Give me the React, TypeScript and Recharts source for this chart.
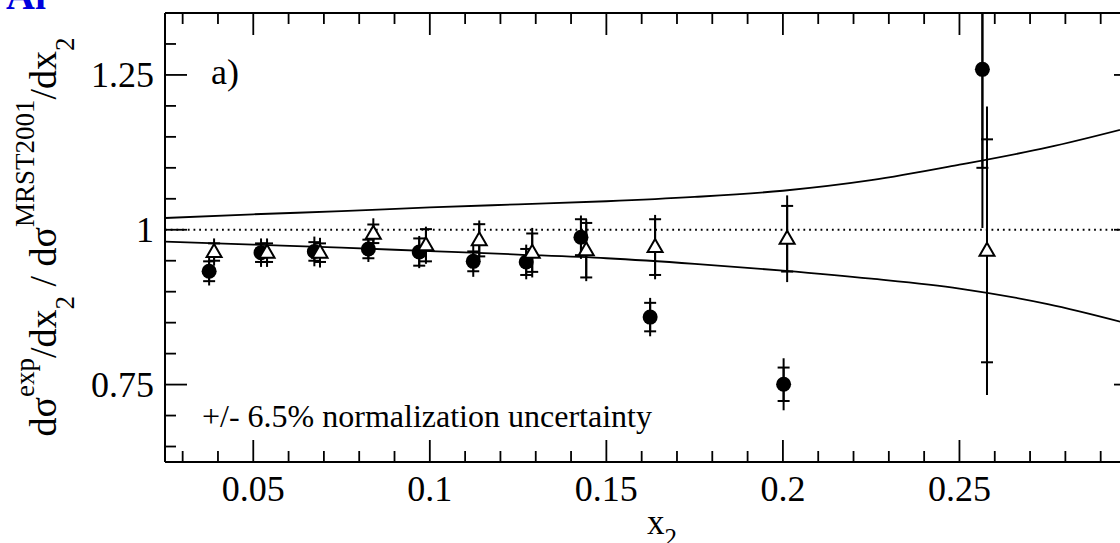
import React from 'react';
import { ComposedChart, XAxis, YAxis, Line, Scatter, ErrorBar, ReferenceLine } from 'recharts';

const SERIF = '"Liberation Serif", "Times New Roman", serif';

// Filled circles
const circleX = [0.0375, 0.0522, 0.0673, 0.0826, 0.097, 0.1123, 0.1273, 0.1428, 0.1624, 0.2002, 0.2565];
const circleY = [0.933, 0.963, 0.965, 0.969, 0.964, 0.949, 0.948, 0.988, 0.859, 0.7505, 1.259];
const circleStat = [0.016, 0.015, 0.015, 0.015, 0.022, 0.016, 0.021, 0.029, 0.023, 0.027, 0.159];
const circleTot = [0.023, 0.023, 0.024, 0.021, 0.026, 0.025, 0.028, 0.035, 0.031, 0.042, 0.256];

// Open triangles
const triX = [0.0389, 0.0539, 0.0689, 0.084, 0.0989, 0.114, 0.129, 0.1443, 0.1638, 0.2012, 0.2578];
const triY = [0.964, 0.963, 0.963, 0.9935, 0.975, 0.983, 0.963, 0.967, 0.972, 0.9855, 0.966];
const triStat = [0.014, 0.015, 0.015, 0.015, 0.026, 0.026, 0.031, 0.044, 0.045, 0.053, 0.18];
const triTot = [0.022, 0.023, 0.024, 0.025, 0.03, 0.032, 0.04, 0.05, 0.052, 0.07, 0.233];

// Band curves
const bandX = [0.025, 0.05, 0.075, 0.1, 0.125, 0.15, 0.175, 0.2, 0.225, 0.25, 0.275, 0.3];
const bandUpper = [1.019, 1.025, 1.03, 1.036, 1.041, 1.046, 1.053, 1.063, 1.08, 1.105, 1.133, 1.168];
const bandLower = [0.981, 0.976, 0.971, 0.9655, 0.96, 0.954, 0.945, 0.934, 0.921, 0.905, 0.88, 0.845];

// Ticks
const xMajorTicks = [0.05, 0.1, 0.15, 0.2, 0.25];
const xMinorTicks = [0.03, 0.04, 0.06, 0.07, 0.08, 0.09, 0.11, 0.12, 0.13, 0.14, 0.16, 0.17, 0.18, 0.19, 0.21, 0.22, 0.23, 0.24, 0.26, 0.27, 0.28, 0.29];
const yMajorTicks = [0.75, 1, 1.25];
const yMinorTicks = [0.65, 0.7, 0.8, 0.85, 0.9, 0.95, 1.05, 1.1, 1.15, 1.2, 1.3];

const xTicks = [...xMajorTicks, ...xMinorTicks].sort((a, b) => a - b);
const yTicks = [...yMajorTicks, ...yMinorTicks].sort((a, b) => a - b);

const circleData = circleX.map((x, i) => ({ x, y: circleY[i], stat: circleStat[i], tot: circleTot[i] }));
const triData = triX.map((x, i) => ({ x, y: triY[i], stat: triStat[i], tot: triTot[i] }));
const upperData = bandX.map((x, i) => ({ x, y: bandUpper[i] }));
const lowerData = bandX.map((x, i) => ({ x, y: bandLower[i] }));

const MAJ = 22;
const MIN = 11;
const TW = 1.8;

const BottomTick = (props: any) => {
  const { x, y, payload } = props;
  const major = xMajorTicks.includes(payload.value);
  return (
    <g>
      <line x1={x} x2={x} y1={y} y2={y - (major ? MAJ : MIN)} stroke="#000" strokeWidth={TW} />
      {major && (
        <text x={x} y={y + 39} textAnchor="middle" fontFamily={SERIF} fontSize={36} fill="#000">
          {String(payload.value)}
        </text>
      )}
    </g>
  );
};

const TopTick = (props: any) => {
  const { x, y, payload } = props;
  const major = xMajorTicks.includes(payload.value);
  return <line x1={x} x2={x} y1={y} y2={y + (major ? MAJ : MIN)} stroke="#000" strokeWidth={TW} />;
};

const LeftTick = (props: any) => {
  const { x, y, payload } = props;
  const major = yMajorTicks.includes(payload.value);
  return (
    <g>
      <line x1={x} x2={x + (major ? MAJ : MIN)} y1={y} y2={y} stroke="#000" strokeWidth={TW} />
      {major && (
        <text x={x - 11} y={y + 12} textAnchor="end" fontFamily={SERIF} fontSize={36} fill="#000">
          {String(payload.value)}
        </text>
      )}
    </g>
  );
};

const RightTick = (props: any) => {
  const { x, y, payload } = props;
  const major = yMajorTicks.includes(payload.value);
  return <line x1={x} x2={x - (major ? MAJ : MIN)} y1={y} y2={y} stroke="#000" strokeWidth={TW} />;
};

const CircleShape = (props: any) => <circle cx={props.cx} cy={props.cy} r={7.5} fill="#000" />;
const TriShape = (props: any) => {
  const { cx, cy } = props;
  const pts = `${cx},${cy - 8} ${cx - 7.5},${cy + 5} ${cx + 7.5},${cy + 5}`;
  return <polygon points={pts} fill="#fff" stroke="#000" strokeWidth={2} />;
};

export default function App() {
  return (
    <div style={{ position: 'absolute', left: 0, top: 0, width: 1120, height: 543, overflow: 'hidden', background: '#fff' }}>
      <style>{`.recharts-errorBar, .recharts-errorBars { clip-path: url(#plotAreaClip); }`}</style>
      <svg width={0} height={0} style={{ position: 'absolute' }}>
        <defs>
          <clipPath id="plotAreaClip" clipPathUnits="userSpaceOnUse">
            <rect x={165} y={13} width={971} height={449} />
          </clipPath>
        </defs>
      </svg>
      <ComposedChart width={1160} height={543} margin={{ top: 0, right: 0, bottom: 0, left: 0 }}>
        <XAxis
          xAxisId="b"
          type="number"
          dataKey="x"
          orientation="bottom"
          domain={[0.025, 0.3]}
          allowDataOverflow
          ticks={xTicks}
          interval={0}
          height={81}
          tickSize={0}
          tickMargin={0}
          tickLine={false}
          tick={<BottomTick />}
          axisLine={{ stroke: '#000', strokeWidth: 2 }}
        />
        <XAxis
          xAxisId="t"
          type="number"
          dataKey="x"
          orientation="top"
          domain={[0.025, 0.3]}
          allowDataOverflow
          ticks={xTicks}
          interval={0}
          height={13}
          tickSize={0}
          tickMargin={0}
          tickLine={false}
          tick={<TopTick />}
          axisLine={{ stroke: '#000', strokeWidth: 2 }}
        />
        <YAxis
          yAxisId="l"
          type="number"
          orientation="left"
          domain={[0.625, 1.35]}
          allowDataOverflow
          ticks={yTicks}
          interval={0}
          width={165}
          tickSize={0}
          tickMargin={0}
          tickLine={false}
          tick={<LeftTick />}
          axisLine={{ stroke: '#000', strokeWidth: 2 }}
        />
        <YAxis
          yAxisId="r"
          type="number"
          orientation="right"
          domain={[0.625, 1.35]}
          allowDataOverflow
          ticks={yTicks}
          interval={0}
          width={24}
          tickSize={0}
          tickMargin={0}
          tickLine={false}
          tick={<RightTick />}
          axisLine={{ stroke: '#000', strokeWidth: 2 }}
        />
        <ReferenceLine xAxisId="b" yAxisId="l" y={1} stroke="#000" strokeWidth={1.8} strokeDasharray="1.8 3.9" />
        <Line xAxisId="b" yAxisId="l" data={upperData} dataKey="y" type="monotone" stroke="#000" strokeWidth={1.8} dot={false} isAnimationActive={false} />
        <Line xAxisId="b" yAxisId="l" data={lowerData} dataKey="y" type="monotone" stroke="#000" strokeWidth={1.8} dot={false} isAnimationActive={false} />
        <Scatter xAxisId="b" yAxisId="l" data={circleData} dataKey="y" shape={<CircleShape />} isAnimationActive={false}>
          <ErrorBar dataKey="tot" direction="y" width={0} stroke="#000" strokeWidth={2} isAnimationActive={false} />
          <ErrorBar dataKey="stat" direction="y" width={6} stroke="#000" strokeWidth={2} isAnimationActive={false} />
        </Scatter>
        <Scatter xAxisId="b" yAxisId="l" data={triData} dataKey="y" shape={<TriShape />} isAnimationActive={false}>
          <ErrorBar dataKey="tot" direction="y" width={0} stroke="#000" strokeWidth={2} isAnimationActive={false} />
          <ErrorBar dataKey="stat" direction="y" width={6} stroke="#000" strokeWidth={2} isAnimationActive={false} />
        </Scatter>
      </ComposedChart>
      <svg width={1120} height={543} style={{ position: 'absolute', left: 0, top: 0, pointerEvents: 'none' }}>
        <text x={6} y={9} fontFamily={SERIF} fontWeight="bold" fontSize={40} fill="#0000dd">Al</text>
        <text x={211} y={84} fontFamily={SERIF} fontSize={36} fill="#000">a)</text>
        <text x={202} y={427} fontFamily={SERIF} fontSize={32} fill="#000">+/- 6.5% normalization uncertainty</text>
        <text x={647} y={534} fontFamily={SERIF} fontSize={35} fill="#000">
          x<tspan fontSize={25} dy={12}>2</tspan>
        </text>
        <text transform="translate(56,237) rotate(-90)" textAnchor="middle" fontFamily={SERIF} fontSize={38} fill="#000">
          <tspan>dσ</tspan>
          <tspan fontSize={27} dy={-22}>exp</tspan>
          <tspan dy={22}>/dx</tspan>
          <tspan fontSize={27} dy={18}>2</tspan>
          <tspan dy={-18}>{'\u00a0/ dσ'}</tspan>
          <tspan fontSize={27} dy={-22}>MRST2001</tspan>
          <tspan dy={22}>/dx</tspan>
          <tspan fontSize={27} dy={18}>2</tspan>
        </text>
      </svg>
    </div>
  );
}
